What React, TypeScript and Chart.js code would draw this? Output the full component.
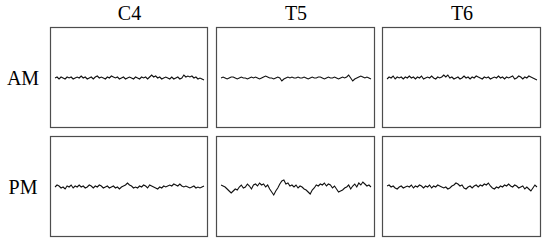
import React, { useEffect, useRef } from "react";
import { Chart, registerables } from "chart.js";

Chart.register(...registerables);

const columnLabels = ["C4", "T5", "T6"];
const rowLabels = ["AM", "PM"];

const amC4 = [0,1,-1,1,0,-1,1,0,1,-1, 0,1,0,2,0,1,-1,0,1,-1, 1,2,0,1,0,-1,1,0,2,1, 0,1,-1,0,1,-1,0,1,0,-1, 1,0,-1,1,0,1,-1,1,3,1, 2,0,1,-1,0,1,0,-1,1,-1, 0,1,-1,0,3,1,2,1,2,0, 1,-1,0,-1,-2];
const amT5 = [0,1,0,-1,0,1,1,0,-1,0, 1,0,0,-1,0,1,0,1,0,-1, 0,1,2,1,0,0,-1,0,1,0, -3,-1,0,1,0,1,0,0,1,0, 0,1,0,-1,0,1,0,0,1,1, 0,-1,0,1,0,0,1,0,-1,0, 1,0,1,3,0,-3,-1,0,1,2, 1,0,1,0,-1];
const amT6 = [-1,1,0,2,-1,1,0,1,-1,1, 0,2,0,1,-1,1,0,2,-1,0, 1,0,2,0,-1,1,0,1,3,1, 3,0,1,-1,0,1,-1,0,2,0, 1,-1,1,0,2,1,0,-1,1,0, 1,-1,0,1,0,2,0,1,-1,1, 0,1,2,-1,0,2,1,-1,1,0, 2,1,0,-1,-2];
const pmC4 = [0,2,1,-1,0,-2,1,0,2,-1, 1,0,2,0,1,-1,0,2,1,-1, 1,0,2,1,-1,0,1,-1,0,1, -1,0,-2,0,1,2,4,2,1,-1, 0,-1,1,0,2,1,-1,2,1,0, -1,-2,0,-1,1,0,1,2,1,3, 2,1,3,1,0,1,0,-1,0,1, -1,0,-1,0,1];
const pmT5 = [2,1,0,-2,-4,-6,-4,-2,-3,0, 2,-1,0,3,1,-2,2,3,1,4, 2,3,0,2,-2,-5,-8,-4,-1,3, 6,7,3,4,1,2,0,2,-1,1, 0,-2,-3,-5,-7,-3,-1,2,1,3, 2,4,1,3,2,-1,1,-2,-5,-4, -3,-1,0,2,-2,1,3,0,4,2, 5,3,1,2,0];
const pmT6 = [1,2,0,1,-1,-2,0,1,-1,0, 1,0,2,-1,1,0,2,1,-1,1, 0,2,-1,1,0,2,1,0,-1,0, -2,-1,1,2,4,3,1,2,-1,-2, 0,1,-1,1,2,0,2,1,3,2, 4,1,-1,-2,0,-1,1,0,2,1, 3,1,0,2,1,-1,0,1,-2,0, -2,-4,-1,2,0];

const series = [
  [amC4, amT5, amT6],
  [pmC4, pmT5, pmT6],
];

const COLS = [
  { left: 50, right: 207 },
  { left: 216, right: 374 },
  { left: 382, right: 540 },
];
const ROWS = [
  { top: 27, bottom: 127 },
  { top: 136, bottom: 236 },
];
const PAD = 2;
const FONT = '"Liberation Serif", "DejaVu Serif", serif';

const boxPlugin = {
  id: "boxBorder",
  afterDraw(chart: any) {
    const { ctx, chartArea } = chart;
    ctx.save();
    ctx.strokeStyle = "#4d4d4d";
    ctx.lineWidth = 1.2;
    ctx.strokeRect(
      chartArea.left + 0.5,
      chartArea.top + 0.5,
      chartArea.right - chartArea.left,
      chartArea.bottom - chartArea.top
    );
    ctx.restore();
  },
};

function Panel({ values, col, row }: { values: number[]; col: number; row: number }) {
  const ref = useRef<HTMLCanvasElement>(null);
  const c = COLS[col];
  const r = ROWS[row];
  const w = c.right - c.left + PAD * 2;
  const h = r.bottom - r.top + PAD * 2;
  useEffect(() => {
    if (!ref.current) return;
    const chart = new Chart(ref.current, {
      type: "line",
      data: {
        datasets: [
          {
            data: values.map((v, i) => ({ x: i, y: v })),
            borderColor: "#111",
            borderWidth: 1.1,
            pointRadius: 0,
            tension: 0,
          },
        ],
      },
      options: {
        animation: false,
        responsive: false,
        events: [],
        layout: { padding: PAD },
        plugins: { legend: { display: false }, tooltip: { enabled: false } },
        scales: {
          x: { type: "linear", min: -2.5, max: values.length + 0.5, display: false },
          y: { min: -49, max: 51, display: false },
        },
      },
      plugins: [boxPlugin],
    });
    return () => chart.destroy();
  }, [values]);
  return (
    <canvas
      ref={ref}
      width={w}
      height={h}
      style={{ position: "absolute", left: c.left - PAD, top: r.top - PAD, width: w, height: h }}
    />
  );
}

const labelStyle: React.CSSProperties = {
  position: "absolute",
  fontFamily: FONT,
  fontSize: 20,
  lineHeight: 1,
  color: "#000",
  transform: "translate(-50%, -50%)",
  whiteSpace: "nowrap",
};

export default function App() {
  return (
    <div style={{ position: "absolute", left: 0, top: 0, width: 550, height: 244, background: "#fff" }}>
      {columnLabels.map((t, i) => (
        <div key={t} style={{ ...labelStyle, left: (COLS[i].left + COLS[i].right) / 2 + 1, top: 13 }}>
          {t}
        </div>
      ))}
      {rowLabels.map((t, j) => (
        <div key={t} style={{ ...labelStyle, left: 23, top: (ROWS[j].top + ROWS[j].bottom) / 2 + 1 }}>
          {t}
        </div>
      ))}
      {series.map((rowSeries, j) =>
        rowSeries.map((vals, i) => <Panel key={`${j}-${i}`} values={vals} col={i} row={j} />)
      )}
    </div>
  );
}
